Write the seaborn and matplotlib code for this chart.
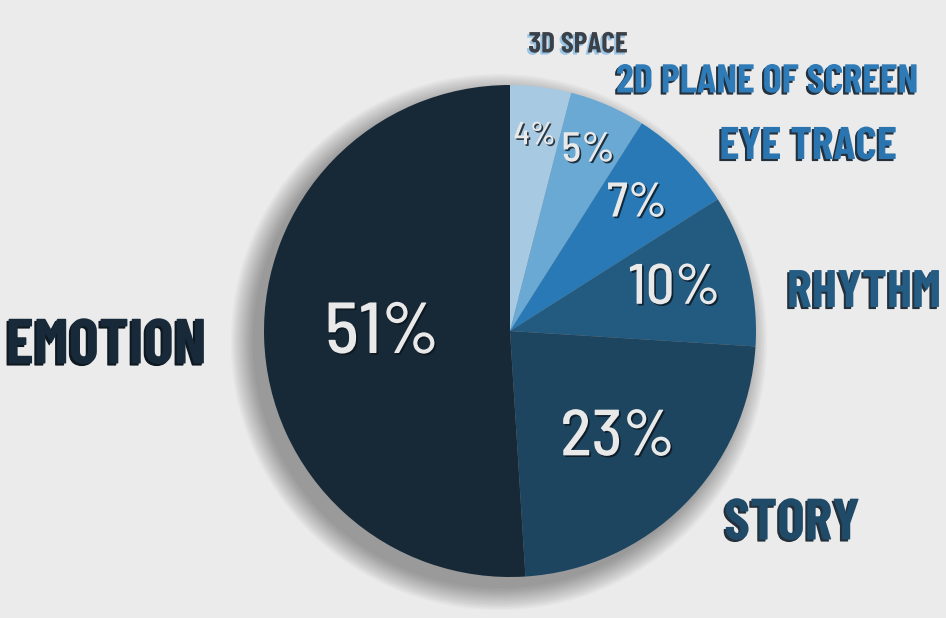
import numpy as np
import matplotlib
matplotlib.use("Agg")
import matplotlib.pyplot as plt
import matplotlib.patheffects as pe
from matplotlib.patches import Circle
import seaborn as sns

# slices, clockwise from 12 o'clock
categories = ["3D SPACE", "2D PLANE OF SCREEN", "EYE TRACE", "RHYTHM", "STORY", "EMOTION"]
shares = [4, 5, 7, 10, 23, 51]

slice_colors = ["#a8c9e2", "#69a9d4", "#2879b5", "#225a80", "#1d4560", "#172836"]
label_colors = ["#3b4148", "#2e7bb8", "#2a74b0", "#245c84", "#1f4a68", "#182a39"]
label_shadow = ["#9cc4e4", "#25303b", "#25303b", "#25303b", "#25303b", "#0e1821"]

# layout (pixels of the 946x618 picture)
W, H = 946, 618
CX, CY, R = 510, 331, 246
label_px = [(578, 45), (767, 82), (808, 147), (864, 293), (792, 524), (106, 347)]
label_size = [21, 29, 33, 38, 42, 46]
pct_dist = [0.80, 0.80, 0.73, 0.69, 0.62, 0.52]
pct_size = [23, 30, 35, 41, 47, 52]


def px(x, y):
    return (x - CX) / R, (CY - y) / R


sns.set_theme(style="white")
plt.rcParams["font.family"] = ["Barlow Condensed", "DejaVu Sans"]

fig = plt.figure(figsize=(W / 100, H / 100), dpi=100)
fig.patch.set_facecolor("#ebebeb")
ax = fig.add_axes([0, 0, 1, 1])
ax.set_facecolor("#ebebeb")

# soft drop shadow under the pie
for k in range(16):
    ax.add_patch(Circle((-0.045, -0.045), 1.0 + k * 0.006, color="black",
                        alpha=0.022, lw=0, zorder=1))

wedges, _ = ax.pie(shares, colors=slice_colors, startangle=90, counterclock=False,
                   radius=1.0, wedgeprops=dict(linewidth=0))
for w in wedges:
    w.set_zorder(2)

# percentage labels inside the slices
for w, val, d, fs in zip(wedges, shares, pct_dist, pct_size):
    ang = np.deg2rad((w.theta1 + w.theta2) / 2)
    ax.text(d * np.cos(ang), d * np.sin(ang), f"{val}%", ha="center", va="center",
            fontsize=fs, fontweight=500, color="#e9e9e9", zorder=5,
            family=["Barlow Semi Condensed", "DejaVu Sans"],
            path_effects=[pe.withSimplePatchShadow(offset=(1.2, -1.2),
                                                   shadow_rgbFace="#0b141c", alpha=0.8)])

# category labels around the pie
for name, pos, fs, c, sc in zip(categories, label_px, label_size, label_colors, label_shadow):
    x, y = px(*pos)
    ax.text(x, y, name, ha="center", va="center", fontsize=fs, fontweight="bold",
            color=c, zorder=5,
            path_effects=[pe.withSimplePatchShadow(offset=(-1.5, -1.5),
                                                   shadow_rgbFace=sc, alpha=1.0)])

ax.set_xlim(-CX / R, (W - CX) / R)
ax.set_ylim(-(H - CY) / R, CY / R)
ax.set_aspect("equal")
ax.axis("off")

fig.savefig("out.png", dpi=100, facecolor=fig.get_facecolor())
